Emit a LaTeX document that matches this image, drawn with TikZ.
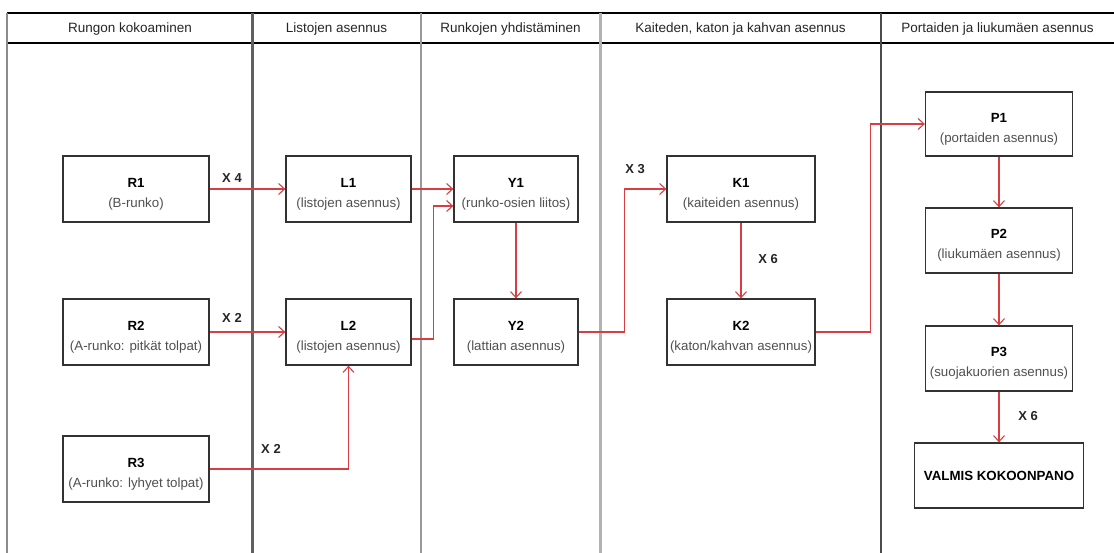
\documentclass[tikz,border=0pt]{standalone}
\usepackage{fontspec}
\setmainfont{Liberation Sans}
\usetikzlibrary{arrows.meta,calc}
\definecolor{flowred}{RGB}{214,62,66}
\definecolor{boxline}{RGB}{50,50,50}
\definecolor{subtext}{RGB}{80,80,80}
\begin{document}
\begin{tikzpicture}[x=1pt,y=-1pt,
  stepbox/.style={draw=boxline,line width=1.3pt,fill=white,inner sep=0pt,
    minimum height=66pt,align=center,font=\fontsize{13.3}{20}\selectfont},
  flow/.style={draw=flowred,line width=1.1pt,
    -{Straight Barb[length=6pt,width=11pt,line width=1.1pt]}},
  qty/.style={font=\fontsize{13}{15}\selectfont\bfseries,text=black!85,inner sep=1pt},
  lanehead/.style={font=\fontsize{13.5}{16}\selectfont,text=black!85,inner sep=0pt}]
\useasboundingbox (0,0) rectangle (1114,553);
\fill[white] (0,0) rectangle (1114,553);

% swimlane frame
\draw[black,line width=1.5pt] (7,13) -- (1114,13);
\draw[black,line width=1.2pt] (7,43) -- (1114,43);
\draw[black!45,line width=1.5pt] (7,13) -- (7,553);
\draw[black!62,line width=3pt] (252.5,13) -- (252.5,553);
\draw[black!40,line width=2pt] (421,13) -- (421,553);
\draw[black!30,line width=3pt] (600,13) -- (600,553);
\draw[black!70,line width=1.2pt] (881,13) -- (881,553);

% lane titles
\node[lanehead] (h1) at (130,29) {Rungon kokoaminen};
\node[lanehead] (h2) at (336.5,29) {Listojen asennus};
\node[lanehead] (h3) at (510.5,29) {Runkojen yhdistäminen};
\node[lanehead] (h4) at (740.5,29) {Kaiteden, katon ja kahvan asennus};
\node[lanehead] (h5) at (997.5,29) {Portaiden ja liukumäen asennus};

% steps: bold code over a grey description
\newcommand{\steptext}[2]{\rule{0pt}{19pt}\textbf{#1}\\\textcolor{subtext}{#2}}
\node[stepbox,minimum width=146pt] (R1) at (136,189) {\steptext{R1}{(B-runko)}};
\node[stepbox,minimum width=146pt] (R2) at (136,332) {\steptext{R2}{(A-runko: pitkät tolpat)}};
\node[stepbox,minimum width=146pt] (R3) at (136,469) {\steptext{R3}{(A-runko: lyhyet tolpat)}};
\node[stepbox,minimum width=125pt] (L1) at (348.5,189) {\steptext{L1}{(listojen asennus)}};
\node[stepbox,minimum width=125pt] (L2) at (348.5,332) {\steptext{L2}{(listojen asennus)}};
\node[stepbox,minimum width=124pt] (Y1) at (516,189) {\steptext{Y1}{(runko-osien liitos)}};
\node[stepbox,minimum width=124pt] (Y2) at (516,332) {\steptext{Y2}{(lattian asennus)}};
\node[stepbox,minimum width=148pt] (K1) at (741,189) {\steptext{K1}{(kaiteiden asennus)}};
\node[stepbox,minimum width=148pt] (K2) at (741,332) {\steptext{K2}{(katon/kahvan asennus)}};
\node[stepbox,minimum width=147pt,minimum height=64pt] (P1) at (999,124) {\steptext{P1}{(portaiden asennus)}};
\node[stepbox,minimum width=147pt,minimum height=65pt] (P2) at (999,240.5) {\steptext{P2}{(liukumäen asennus)}};
\node[stepbox,minimum width=147pt,minimum height=65pt] (P3) at (999,358.5) {\steptext{P3}{(suojakuorien asennus)}};
\node[stepbox,minimum width=169pt,minimum height=65pt] (V) at (999,475.5) {\textbf{VALMIS KOKOONPANO}};

% connectors
\draw[flow] (R1) -- (L1);
\draw[flow] (R2) -- (L2);
\draw[flow] (R3.east) -| (L2.south);
\draw[flow] (L1) -- (Y1);
\draw[flow] ($(L2.east)+(0,7)$) -- ++(22,0) |- ($(Y1.west)+(0,17)$);
\draw[flow] (Y1) -- (Y2);
\draw[flow] (Y2.east) -- ++(46,0) |- (K1.west);
\draw[flow] (K1) -- (K2);
\draw[flow] (K2.east) -- ++(55,0) |- (P1.west);
\draw[flow] (P1) -- (P2);
\draw[flow] (P2) -- (P3);
\draw[flow] (P3) -- (V);

% quantities
\node[qty] (q1) at (232,178) {X 4};
\node[qty] (q2) at (232,318) {X 2};
\node[qty] (q3) at (271,449) {X 2};
\node[qty] (q4) at (635,169) {X 3};
\node[qty] (q5) at (768,259) {X 6};
\node[qty] (q6) at (1028,416) {X 6};
\end{tikzpicture}
\end{document}
